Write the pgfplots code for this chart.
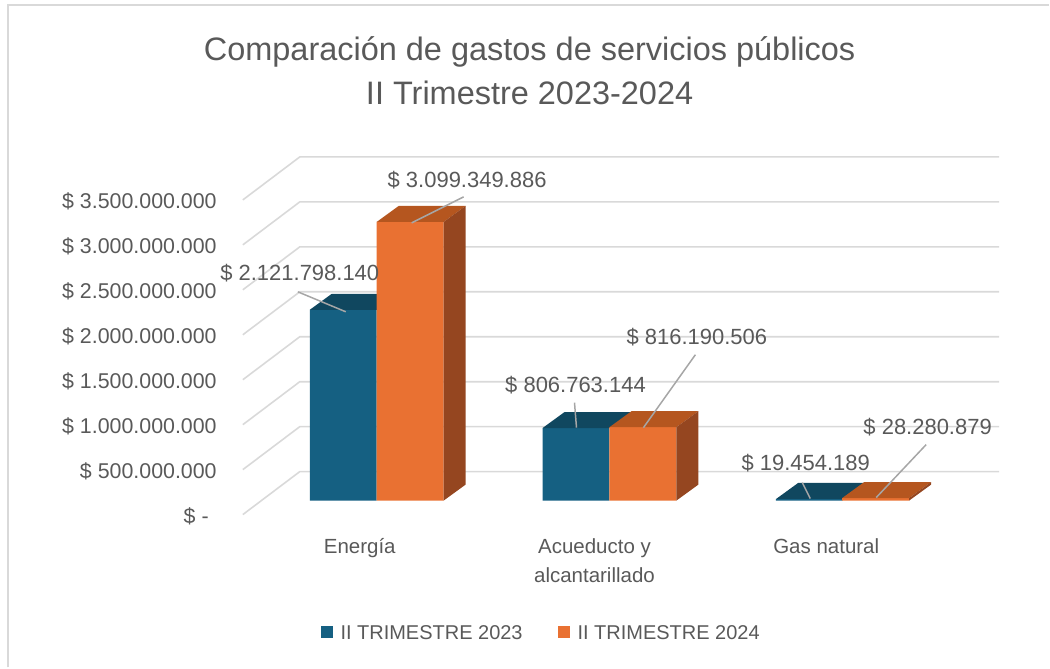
\documentclass[border=0pt]{standalone}
\usepackage{pgfplots}
\pgfplotsset{compat=1.18}
\usepackage{fontspec}
\setmainfont{Liberation Sans}
\definecolor{txt}{HTML}{595959}
\definecolor{grd}{HTML}{D9D9D9}
\definecolor{bfront}{HTML}{156082}
\definecolor{btop}{HTML}{10475F}
\definecolor{ofront}{HTML}{E97132}
\definecolor{otop}{HTML}{B5561F}
\definecolor{oside}{HTML}{954620}
\definecolor{lead}{HTML}{A6A6A6}
\begin{document}
\begin{tikzpicture}
\begin{axis}[
  scale only axis, width=1050pt, height=668pt,
  xmin=0, xmax=1050, ymin=-1855555556, ymax=5566666667,
  axis line style={draw=none}, major tick length=0pt,
  scaled y ticks=false, scaled x ticks=false,
  clip=false,
  ytick={0,500000000,1000000000,1500000000,2000000000,2500000000,3000000000,3500000000},
  yticklabels={{\$ -\rule{8pt}{0pt}},{\$ 500.000.000},{\$ 1.000.000.000},{\$ 1.500.000.000},{\$ 2.000.000.000},{\$ 2.500.000.000},{\$ 3.000.000.000},{\$ 3.500.000.000}},
  yticklabel style={anchor=east, inner sep=0pt, xshift=217pt, yshift=-15.4pt, font=\fontsize{21.4}{26}\selectfont, text=txt},
  xtick={360,595,827},
  xticklabels={{\strut Energía},{\strut Acueducto y\\alcantarillado},{\strut Gas natural}},
  xticklabel style={align=center, anchor=north, inner sep=0pt, yshift=134.3pt, font=\fontsize{20.5}{29}\selectfont, text=txt},
  title={Comparación de gastos de servicios públicos\\II Trimestre 2023-2024},
  title style={at={(rel axis cs:0.5048,0.937)}, anchor=north, align=center, inner sep=0pt, font=\fontsize{32.5}{44}\selectfont, text=txt},
  legend columns=2,
  legend style={at={(rel axis cs:0.5148,0.0516)}, anchor=center, draw=none, fill=none,
    font=\fontsize{20}{24}\selectfont, text=txt, nodes={inner sep=0pt},
    /tikz/every odd column/.append style={column sep=8pt},
    /tikz/every even column/.append style={column sep=35pt}},
]
% gridlines (front end, back wall, right end)
\addplot[grd, line width=1.6pt, forget plot] coordinates {(243,-155555556) (300,322222222) (1000,322222222)};
\addplot[grd, line width=1.6pt, forget plot] coordinates {(243,344444444) (300,822222222) (1000,822222222)};
\addplot[grd, line width=1.6pt, forget plot] coordinates {(243,844444444) (300,1322222222) (1000,1322222222)};
\addplot[grd, line width=1.6pt, forget plot] coordinates {(243,1344444444) (300,1822222222) (1000,1822222222)};
\addplot[grd, line width=1.6pt, forget plot] coordinates {(243,1844444444) (300,2322222222) (1000,2322222222)};
\addplot[grd, line width=1.6pt, forget plot] coordinates {(243,2344444444) (300,2822222222) (1000,2822222222)};
\addplot[grd, line width=1.6pt, forget plot] coordinates {(243,2844444444) (300,3322222222) (1000,3322222222)};
\addplot[grd, line width=1.6pt, forget plot] coordinates {(243,3344444444) (300,3822222222) (1000,3822222222)};
% II TRIMESTRE 2023 front faces
\addplot[ybar, bar width=67, bar shift=0pt, fill=bfront, draw=none,
  legend image code/.code={\fill[bfront] (0pt,-5pt) rectangle (12pt,7pt);}]
  coordinates {(343.5,2121798140) (576.5,806763144) (810,19454189)};
\addlegendentry{II TRIMESTRE 2023}
% top faces 2023
\addplot[fill=btop, draw=none, forget plot] coordinates {(310,2121798140) (377,2121798140) (399,2299575918) (332,2299575918)};
\addplot[fill=btop, draw=none, forget plot] coordinates {(543,806763144) (610,806763144) (632,984540922) (565,984540922)};
\addplot[fill=btop, draw=none, forget plot] coordinates {(777,19454189) (843,19454189) (865,197231967) (799,197231967)};
% II TRIMESTRE 2024 front faces
\addplot[ybar, bar width=67, bar shift=0pt, fill=ofront, draw=none,
  legend image code/.code={\fill[ofront] (0pt,-5pt) rectangle (12pt,7pt);}]
  coordinates {(410.5,3099349886) (643.5,816190506) (876.5,28280879)};
\addlegendentry{II TRIMESTRE 2024}
% top and side faces 2024
\addplot[fill=otop, draw=none, forget plot] coordinates {(377,3099349886) (444,3099349886) (466,3277127664) (399,3277127664)};
\addplot[fill=oside, draw=none, forget plot] coordinates {(444,0) (444,3099349886) (466,3277127664) (466,177777778)};
\addplot[fill=otop, draw=none, forget plot] coordinates {(610,816190506) (677,816190506) (699,993968284) (632,993968284)};
\addplot[fill=oside, draw=none, forget plot] coordinates {(677,0) (677,816190506) (699,993968284) (699,177777778)};
\addplot[fill=otop, draw=none, forget plot] coordinates {(843,28280879) (910,28280879) (932,206058657) (865,206058657)};
\addplot[fill=oside, draw=none, forget plot] coordinates {(910,0) (910,28280879) (932,206058657) (932,177777778)};
% leader lines
\addplot[lead, line width=1.5pt, forget plot] coordinates {(298,2322222222) (346,2100000000)};
\addplot[lead, line width=1.5pt, forget plot] coordinates {(464,3377777778) (412,3088888889)};
\addplot[lead, line width=1.5pt, forget plot] coordinates {(575,1088888889) (577,811111111)};
\addplot[lead, line width=1.5pt, forget plot] coordinates {(696,1622222222) (644,811111111)};
\addplot[lead, line width=1.5pt, forget plot] coordinates {(803,200000000) (811,22222222)};
\addplot[lead, line width=1.5pt, forget plot] coordinates {(927,622222222) (877,33333333)};
% data labels
\begin{scope}[every node/.style={font=\fontsize{22}{26}\selectfont, text=txt, inner sep=0pt}]
\node at (axis cs:300,2533333333) {\$ 2.121.798.140};
\node at (axis cs:467.5,3566666667) {\$ 3.099.349.886};
\node at (axis cs:576,1288888889) {\$ 806.763.144};
\node at (axis cs:697.5,1822222222) {\$ 816.190.506};
\node at (axis cs:806.5,411111111) {\$ 19.454.189};
\node at (axis cs:928.5,822222222) {\$ 28.280.879};
\end{scope}
% chart border
\draw[grd, line width=2pt] (rel axis cs:0.007619,0) -- (rel axis cs:0.007619,0.992515) -- (rel axis cs:1,0.992515);
\end{axis}
\end{tikzpicture}
\end{document}
